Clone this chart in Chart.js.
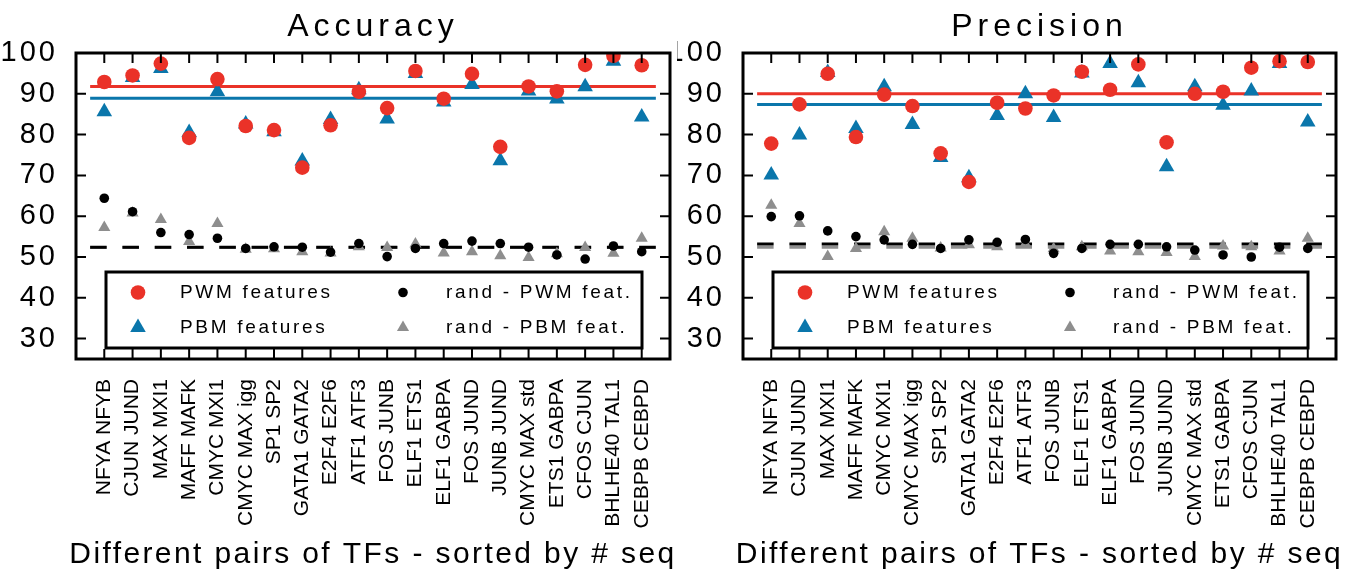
<!DOCTYPE html>
<html>
<head>
<meta charset="utf-8">
<script src="https://cdn.jsdelivr.net/npm/chart.js@4.4.1/dist/chart.umd.min.js"></script>
<style>
html,body{margin:0;padding:0;background:#fff;}
#wrap{position:relative;width:1357px;height:569px;overflow:hidden;}
.pane{position:absolute;top:0;}
#left{left:0;}
#right{left:677px;}
</style>
</head>
<body>
<div id="wrap">
<div class="pane" id="left"><canvas id="accChart" width="680" height="569"></canvas></div>
<div class="pane" id="right"><canvas id="precChart" width="680" height="569"></canvas></div>
</div>
<script>
const tfPairs = ["NFYA NFYB","CJUN JUND","MAX MXI1","MAFF MAFK","CMYC MXI1","CMYC MAX igg","SP1 SP2","GATA1 GATA2","E2F4 E2F6","ATF1 ATF3","FOS JUNB","ELF1 ETS1","ELF1 GABPA","FOS JUND","JUNB JUND","CMYC MAX std","ETS1 GABPA","CFOS CJUN","BHLHE40 TAL1","CEBPB CEBPD"];
const yTicks = [30,40,50,60,70,80,90,100];
const xTitle = "Different pairs of TFs - sorted by # seq";

// Accuracy
const accPWM     = [92.9,94.5,97.4,79.2,93.6,82.1,81.1,71.9,82.3,90.5,86.5,95.6,88.8,94.9,77.0,91.8,90.6,97.1,99.3,97.0];
const accPBM     = [85.6,94.0,96.2,80.5,90.5,82.6,80.7,73.5,83.7,91.0,83.8,95.0,88.0,92.3,73.6,90.7,88.7,91.7,98.0,84.3];
const accRandPWM = [64.4,61.1,56.0,55.5,54.6,52.1,52.5,52.4,51.2,53.3,50.1,52.1,53.3,53.9,53.3,52.4,50.5,49.5,52.7,51.3];
const accRandPBM = [57.2,60.8,59.2,53.8,58.2,51.9,52.0,51.3,51.0,52.5,52.3,53.2,51.0,51.3,50.3,49.9,50.8,52.3,50.9,54.6];
const accMeans   = [91.8,88.9,52.4,52.3]; // PWM, PBM, rand PWM, rand PBM

// Precision
const precPWM     = [77.8,87.4,94.9,79.4,89.8,87.0,75.4,68.4,87.8,86.4,89.6,95.4,91.0,97.2,78.1,90.0,90.5,96.4,98.0,97.8];
const precPBM     = [70.1,79.9,95.2,81.5,91.7,82.5,74.4,69.4,84.7,90.0,84.2,95.1,97.4,92.7,72.1,91.7,87.2,90.7,97.4,83.1];
const precRandPWM = [59.9,60.1,56.4,55.0,54.2,53.1,52.1,54.2,53.6,54.3,50.9,52.1,53.1,53.1,52.5,51.7,50.5,50.0,52.4,52.1];
const precRandPBM = [62.7,58.2,50.1,52.1,56.2,54.6,52.2,53.0,52.5,53.2,52.0,52.5,51.5,51.3,51.1,50.1,52.7,52.5,51.5,54.6];
const precMeans   = [90.0,87.4,53.2,52.4];

const RED="#ea3228", BLUE="#0a76ab", GRAY="#8e8e8e", BLACK="#000";
const FONT='"Liberation Sans", Arial, sans-serif';

// the original text is drawn slightly spaced out, per font size
const spacing={32:5,29:3,30:2.4,19:2.7};
function spaceText(ctx){
  const fill=ctx.fillText.bind(ctx), measure=ctx.measureText.bind(ctx);
  const setSp=()=>{
    const m=ctx.font.match(/(\d+)px/);
    ctx.letterSpacing=((m&&spacing[m[1]])||0)+"px";
  };
  ctx.fillText=(t,x,y,w)=>{setSp(); return w===undefined?fill(t,x,y):fill(t,x,y,w);};
  ctx.measureText=t=>{setSp(); return measure(t);};
}

const pts=arr=>arr.map((v,i)=>({x:i,y:v}));
const flat=v=>[{x:-0.5,y:v},{x:tfPairs.length-0.5,y:v}];

// box round the plot, with inward ticks
const frame={
  id:"frame",
  afterDatasetsDraw(chart){
    const {ctx,chartArea:a,scales:{x,y}}=chart;
    ctx.save();
    ctx.strokeStyle="#000";
    ctx.lineWidth=2;
    ctx.beginPath();
    x.ticks.forEach(t=>{
      const px=x.getPixelForValue(t.value);
      ctx.moveTo(px,a.top); ctx.lineTo(px,a.top+10);
      ctx.moveTo(px,a.bottom); ctx.lineTo(px,a.bottom-10);
    });
    y.ticks.forEach(t=>{
      const py=y.getPixelForValue(t.value);
      ctx.moveTo(a.left,py); ctx.lineTo(a.left+10,py);
      ctx.moveTo(a.right,py); ctx.lineTo(a.right-10,py);
    });
    ctx.stroke();
    ctx.lineWidth=3;
    ctx.strokeRect(a.left,a.top,a.right-a.left,a.bottom-a.top);
    ctx.restore();
  }
};

// titles centred on the plot box (not on the canvas)
const titles={
  id:"titles",
  afterDraw(chart,args,opts){
    const {ctx,chartArea:a}=chart;
    const cx=(a.left+a.right)/2;
    ctx.save();
    ctx.fillStyle="#000";
    ctx.textAlign="center";
    ctx.textBaseline="alphabetic";
    ctx.font="32px "+FONT;
    ctx.fillText(opts.top,cx,36);
    ctx.font="30px "+FONT;
    ctx.fillText(opts.bottom,cx,563);
    ctx.restore();
  }
};

// legend box inside the plot, 2 columns
const legendBox={
  id:"legendBox",
  afterDraw(chart){
    const {ctx,chartArea:a}=chart;
    const L=a.left+30,R=a.right-28,T=a.bottom-87,B=a.bottom-11;
    ctx.save();
    ctx.fillStyle="#fff";
    ctx.fillRect(L,T,R-L,B-T);
    ctx.lineWidth=3;
    ctx.strokeStyle="#000";
    ctx.strokeRect(L,T,R-L,B-T);
    const items=chart.data.datasets.filter(d=>d.inLegend);
    items.forEach((d,i)=>{
      const col=Math.floor(i/2),row=i%2;
      const mx=L+(col?297:32), ty=T+(row?55.5:20.5);
      const r=d.pointRadius;
      ctx.fillStyle=d.backgroundColor;
      ctx.beginPath();
      if(d.pointStyle==="triangle"){
        ctx.moveTo(mx,ty-r);
        ctx.lineTo(mx+r*0.866,ty+r*0.5);
        ctx.lineTo(mx-r*0.866,ty+r*0.5);
        ctx.closePath();
      }else{
        ctx.arc(mx,ty,r,0,Math.PI*2);
      }
      ctx.fill();
      ctx.fillStyle="#000";
      ctx.font="19px "+FONT;
      ctx.textBaseline="middle";
      ctx.textAlign="left";
      ctx.fillText(d.label,L+(col?340:74),ty);
    });
    ctx.restore();
  }
};

function makeChart(id,title,pwm,pbm,rpwm,rpbm,means,axisW,padR){
  const canvas=document.getElementById(id);
  spaceText(canvas.getContext("2d"));
  return new Chart(canvas,{
    type:"scatter",
    data:{
      datasets:[
        {label:"PWM features",data:pts(pwm),pointStyle:"circle",pointRadius:7.3,backgroundColor:RED,borderWidth:0,order:3,inLegend:true},
        {label:"PBM features",data:pts(pbm),pointStyle:"triangle",pointRadius:9,backgroundColor:BLUE,borderWidth:0,order:4,inLegend:true},
        {label:"rand - PWM feat.",data:pts(rpwm),pointStyle:"circle",pointRadius:4.8,backgroundColor:BLACK,borderWidth:0,order:1,inLegend:true},
        {label:"rand - PBM feat.",data:pts(rpbm),pointStyle:"triangle",pointRadius:7,backgroundColor:GRAY,borderWidth:0,order:2,inLegend:true},
        {type:"line",data:flat(means[0]),borderColor:RED,borderWidth:3,pointRadius:0,order:6},
        {type:"line",data:flat(means[1]),borderColor:BLUE,borderWidth:3,pointRadius:0,order:7},
        {type:"line",data:flat(means[2]),borderColor:BLACK,borderWidth:3,borderDash:[16.5,15.8],pointRadius:0,order:8},
        {type:"line",data:flat(means[3]),borderColor:GRAY,borderWidth:3,borderDash:[16.5,15.8],pointRadius:0,order:9}
      ]
    },
    options:{
      responsive:false,
      animation:false,
      events:[],
      layout:{padding:{left:0,right:padR,top:53,bottom:0}},
      plugins:{
        legend:{display:false},
        tooltip:{enabled:false},
        title:{display:false},
        titles:{top:title,bottom:xTitle}
      },
      scales:{
        x:{
          type:"linear",min:-1,max:tfPairs.length,
          grid:{display:false},
          border:{display:false},
          afterBuildTicks:sc=>{sc.ticks=tfPairs.map((_,i)=>({value:i}));},
          afterFit:sc=>{sc.height=210;},
          ticks:{autoSkip:false,minRotation:90,maxRotation:90,padding:12,color:"#000",
            font:{family:FONT,size:21},callback:v=>tfPairs[v]}
        },
        y:{
          min:25,max:100,
          grid:{display:false},
          border:{display:false},
          afterBuildTicks:sc=>{sc.ticks=yTicks.map(v=>({value:v}));},
          afterFit:sc=>{sc.width=axisW;},
          ticks:{padding:10,color:"#000",font:{family:FONT,size:29}}
        }
      }
    },
    plugins:[frame,titles,legendBox]
  });
}

makeChart("accChart","Accuracy",accPWM,accPBM,accRandPWM,accRandPBM,accMeans,76,10);
makeChart("precChart","Precision",precPWM,precPBM,precRandPWM,precRandPBM,precMeans,66,21);
</script>
</body>
</html>
